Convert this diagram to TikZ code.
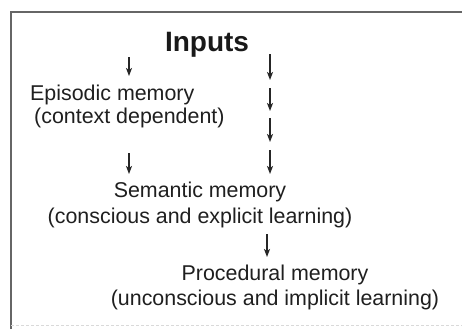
\documentclass[tikz,border=0pt]{standalone}
\usepackage{fontspec}
\setmainfont{Liberation Sans}
\usetikzlibrary{arrows.meta}
\begin{document}
\begin{tikzpicture}[x=1pt,y=-1pt,
  lbl/.style={inner sep=0pt,anchor=base,text=black!88,font=\fontsize{21.4}{26}\selectfont},
  lblw/.style={lbl,anchor=base west},
  ttl/.style={inner sep=0pt,anchor=base,text=black!90,font=\fontsize{28}{32}\selectfont\bfseries},
  flow/.style={draw=black!85,line width=1.3pt,-{Stealth[length=8pt,width=6pt,inset=2pt]}},
  frame/.style={draw=black!60,line width=1.4pt}]
\useasboundingbox (0,0) rectangle (462,329);
\fill[white] (0,0) rectangle (462,329);
% frame
\coordinate (fbl) at (11,329);
\coordinate (ftl) at (11,12);
\coordinate (ftr) at (462,12);
\draw[frame] (fbl) -- (ftl) -- (ftr);
\coordinate (bl) at (11,325);
\coordinate (br) at (462,325);
\draw[black!15,line width=0.8pt,dash pattern=on 3pt off 2pt] (bl) -- (br);
% texts
\node[ttl] (inputs) at (207,52) {Inputs};
\node[lblw] (epi) at (30,100) {Episodic memory};
\node[lblw] (epiB) at (34,123) {(context dependent)};
\node[lbl] (sem) at (200,197) {Semantic memory};
\node[lbl] (semB) at (200,223) {(conscious and explicit learning)};
\node[lbl] (pro) at (275,280) {Procedural memory};
\node[lbl] (proB) at (275,305) {(unconscious and implicit learning)};
% arrow end points
\coordinate (l1s) at (129,57);  \coordinate (l1e) at (129,76);
\coordinate (l2s) at (129,153); \coordinate (l2e) at (129,174);
\coordinate (r1s) at (270,54);  \coordinate (r1e) at (270,80);
\coordinate (r2s) at (270,88);  \coordinate (r2e) at (270,111);
\coordinate (r3s) at (270,118); \coordinate (r3e) at (270,142);
\coordinate (r4s) at (270,150); \coordinate (r4e) at (270,174);
\coordinate (p1s) at (267,234); \coordinate (p1e) at (267,257);
\draw[flow] (l1s) -- (l1e);
\draw[flow] (l2s) -- (l2e);
\draw[flow] (r1s) -- (r1e);
\draw[flow] (r2s) -- (r2e);
\draw[flow] (r3s) -- (r3e);
\draw[flow] (r4s) -- (r4e);
\draw[flow] (p1s) -- (p1e);
\end{tikzpicture}
\end{document}
